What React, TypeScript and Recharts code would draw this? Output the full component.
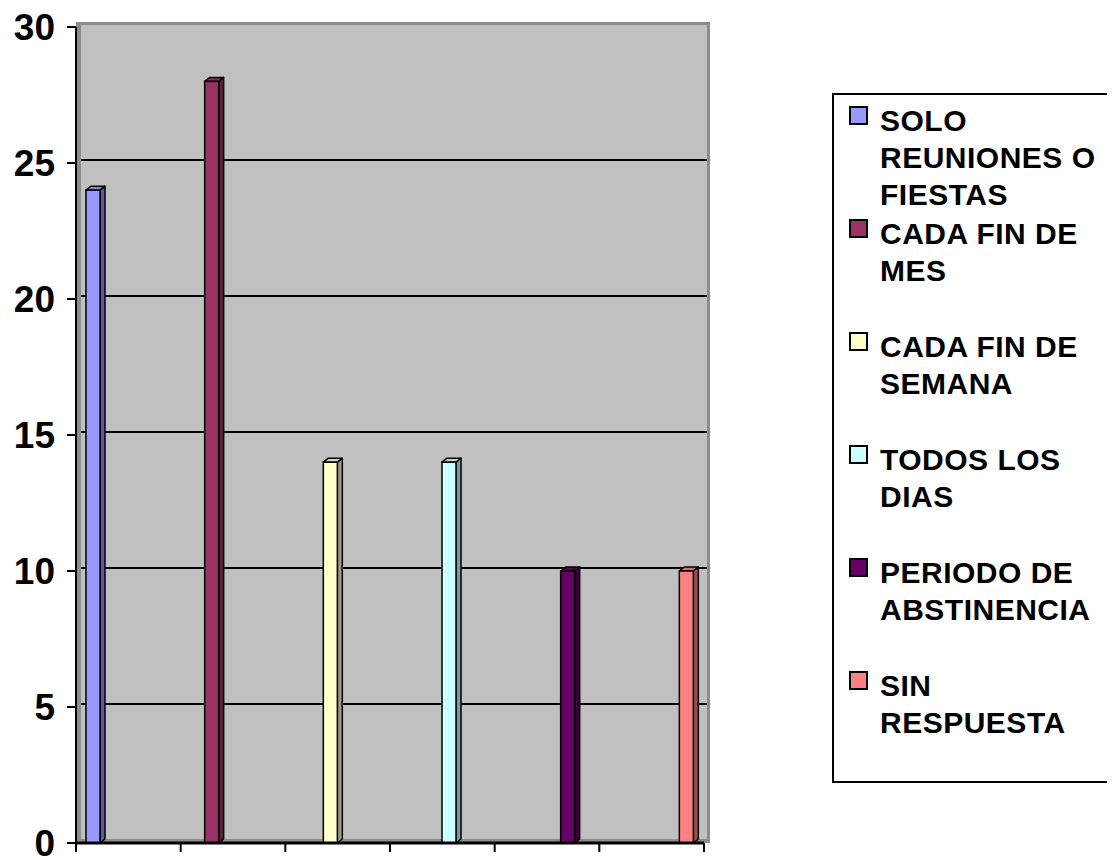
import React from 'react';
import { BarChart, Bar, XAxis, YAxis, CartesianGrid, Legend } from 'recharts';

const seriesNames = [
  'SOLO REUNIONES O FIESTAS',
  'CADA FIN DE MES',
  'CADA FIN DE SEMANA',
  'TODOS LOS DIAS',
  'PERIODO DE ABSTINENCIA',
  'SIN RESPUESTA',
];
const seriesKeys = ['s0', 's1', 's2', 's3', 's4', 's5'];
const seriesValues = [24, 28, 14, 14, 10, 10];
const seriesColors = ['#9999FF', '#993366', '#FFFFCC', '#CCFFFF', '#660066', '#FF8080'];
// category slot centres along the x axis (one slot per series)
const slotCenters = [0.5, 1.5, 2.5, 3.5, 4.5, 5.5];
const yTicks = [0, 5, 10, 15, 20, 25, 30];
const gridValues = [5, 10, 15, 20, 25];
const xTickPositions = [0, 1, 2, 3, 4, 5, 6];

const data = slotCenters.map((pos, i) => ({ pos, [seriesKeys[i]]: seriesValues[i] }));

const FONT = "'Liberation Sans', Arial, sans-serif";

function shade(hex: string, f: number) {
  const n = parseInt(hex.slice(1), 16);
  const r = Math.round(((n >> 16) & 255) * f);
  const g = Math.round(((n >> 8) & 255) * f);
  const b = Math.round((n & 255) * f);
  return `rgb(${r},${g},${b})`;
}

const Bar3D = (props: any) => {
  const { x, y, width, height, fill } = props;
  if (!(height > 0) || !(width > 0)) return null;
  const d = 5;
  const dy = 4;
  return (
    <g>
      <polygon
        points={`${x + width},${y} ${x + width + d},${y - dy} ${x + width + d},${y + height - dy} ${x + width},${y + height}`}
        fill={shade(fill, 0.6)}
        stroke="#000"
        strokeWidth={1.5}
        strokeLinejoin="round"
      />
      <polygon
        points={`${x},${y} ${x + d},${y - dy} ${x + width + d},${y - dy} ${x + width},${y}`}
        fill={shade(fill, 0.85)}
        stroke="#000"
        strokeWidth={1.5}
        strokeLinejoin="round"
      />
      <rect x={x} y={y} width={width} height={height} fill={fill} stroke="#000" strokeWidth={1.5} />
    </g>
  );
};

const renderLegend = () => (
  <div
    style={{
      boxSizing: 'border-box',
      width: '100%',
      height: '100%',
      border: '2px solid #000',
      background: '#fff',
      paddingTop: 7,
      fontFamily: FONT,
      fontWeight: 'bold',
      fontSize: 30,
      letterSpacing: 0.5,
      color: '#000',
    }}
  >
    {seriesNames.map((name, i) => (
      <div key={name} style={{ height: 113, display: 'flex', alignItems: 'flex-start' }}>
        <span
          style={{
            display: 'inline-block',
            boxSizing: 'border-box',
            width: 19,
            height: 19,
            marginTop: 4,
            marginLeft: 15,
            marginRight: 12,
            border: '2px solid #000',
            background: seriesColors[i],
            flex: 'none',
          }}
        />
        <div style={{ lineHeight: '37px', width: 226 }}>{name}</div>
      </div>
    ))}
  </div>
);

const gridGen = ({ yAxis }: any) => {
  const s = yAxis?.scale;
  if (!s) return undefined as any;
  const f = (v: number) => (typeof s === 'function' ? s(v) : s.map ? s.map(v) : undefined);
  const pts = gridValues.map((v) => f(v));
  if (pts.some((p) => typeof p !== 'number' || isNaN(p))) return undefined as any;
  return pts.map((p) => p - 3);
};

export default function App() {
  return (
    <BarChart
      width={1107}
      height={852}
      data={data}
      barGap={0}
      barCategoryGap={10}
      margin={{ top: 19, right: 411, bottom: 5, left: 0 }}
    >
      <CartesianGrid x={68} y={14} width={634} height={821} fill="#8C8C8C" horizontal={false} vertical={false} />
      <CartesianGrid
        x={73}
        y={17}
        width={626}
        height={814}
        fill="#C0C0C0"
        vertical={false}
        horizontalValues={gridValues}
        horizontalCoordinatesGenerator={gridGen}
        stroke="#000"
        strokeWidth={2}
      />
      <XAxis
        dataKey="pos"
        type="number"
        domain={[0, 6]}
        ticks={xTickPositions}
        allowDataOverflow
        interval={0}
        tickFormatter={() => ''}
        tickSize={9}
        height={12}
        axisLine={{ stroke: '#000', strokeWidth: 3 }}
        tickLine={{ stroke: '#000', strokeWidth: 2 }}
      />
      <YAxis
        domain={[0, 30]}
        ticks={yTicks}
        interval={0}
        width={68}
        tickSize={9}
        tickMargin={12}
        tick={{ fontSize: 37, fontWeight: 'bold', fill: '#000', fontFamily: FONT }}
        axisLine={{ stroke: '#000', strokeWidth: 2 }}
        tickLine={{ stroke: '#000', strokeWidth: 2 }}
      />
      {seriesKeys.map((k, i) => (
        <Bar
          key={k}
          dataKey={k}
          name={seriesNames[i]}
          fill={seriesColors[i]}
          shape={Bar3D}
          isAnimationActive={false}
        />
      ))}
      <Legend
        content={renderLegend}
        layout="vertical"
        verticalAlign="middle"
        align="center"
        wrapperStyle={{ left: 824, top: 85, width: 282, height: 690, right: 'auto' }}
      />
    </BarChart>
  );
}
